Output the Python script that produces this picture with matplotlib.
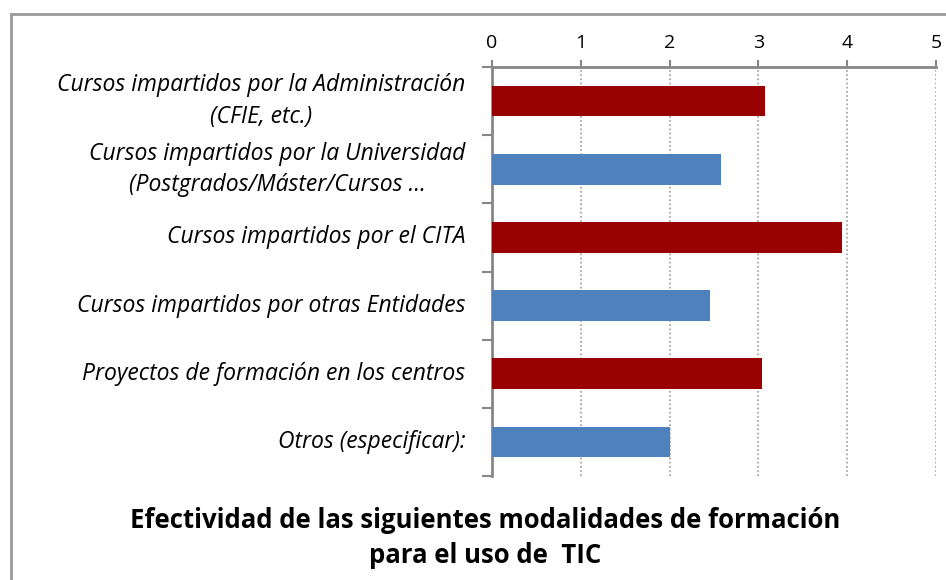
import matplotlib.pyplot as plt
from matplotlib.lines import Line2D

categories = [
    'Cursos impartidos por la Administración\n(CFIE, etc.)',
    'Cursos impartidos por la Universidad\n(Postgrados/Máster/Cursos …',
    'Cursos impartidos por el CITA',
    'Cursos impartidos por otras Entidades',
    'Proyectos de formación en los centros',
    'Otros (especificar):',
]
values = [3.07, 2.58, 3.94, 2.45, 3.04, 2.0]
colors = ['#990000', '#4F81BD', '#990000', '#4F81BD', '#990000', '#4F81BD']
xticks = [0, 1, 2, 3, 4, 5]
title = 'Efectividad de las siguientes modalidades de formación\npara el uso de  TIC'

plt.rcParams['font.family'] = ['Open Sans', 'DejaVu Sans']

fig = plt.figure(figsize=(9.46, 5.8), dpi=100)
ax = fig.add_axes([492 / 946, 1 - 476 / 580, 444 / 946, 409 / 580])

y = list(range(len(categories)))
ax.barh(y, values, height=0.45, color=colors, zorder=3)
ax.set_ylim(len(categories) - 0.5, -0.5)
ax.set_xlim(0, 5)

ax.xaxis.tick_top()
ax.set_xticks(xticks)
ax.set_xticklabels([str(t) for t in xticks], fontsize=14)
ax.tick_params(axis='x', length=5, width=1.5, color='#868686', pad=6)

# category labels placed between the boundary ticks
ax.set_yticks([i - 0.5 for i in range(len(categories) + 1)])
ax.set_yticklabels([])
ax.tick_params(axis='y', length=7, width=1.5, color='#868686')
for i, lab in enumerate(categories):
    ax.text(-0.3, i, lab, ha='right', va='center', fontsize=16.5,
            style='italic', multialignment='center', linespacing=1.4)

ax.grid(axis='x', linestyle=(0, (1, 1.5)), color='#9a9a9a', linewidth=1.2, zorder=0)
for s in ['right', 'bottom']:
    ax.spines[s].set_visible(False)
for s in ['top', 'left']:
    ax.spines[s].set_color('#868686')
    ax.spines[s].set_linewidth(2)

fig.text(485 / 946, 1 - 538 / 580, title, ha='center', va='center',
         fontsize=18.5, fontweight='bold', linespacing=1.4)

# chart area border (top and left visible)
fig.add_artist(Line2D([11 / 946, 1], [1 - 14 / 580] * 2, transform=fig.transFigure,
                      color='#9a9a9a', linewidth=2))
fig.add_artist(Line2D([11 / 946] * 2, [0, 1 - 14 / 580], transform=fig.transFigure,
                      color='#9a9a9a', linewidth=2))

fig.savefig('out.png', dpi=100)
